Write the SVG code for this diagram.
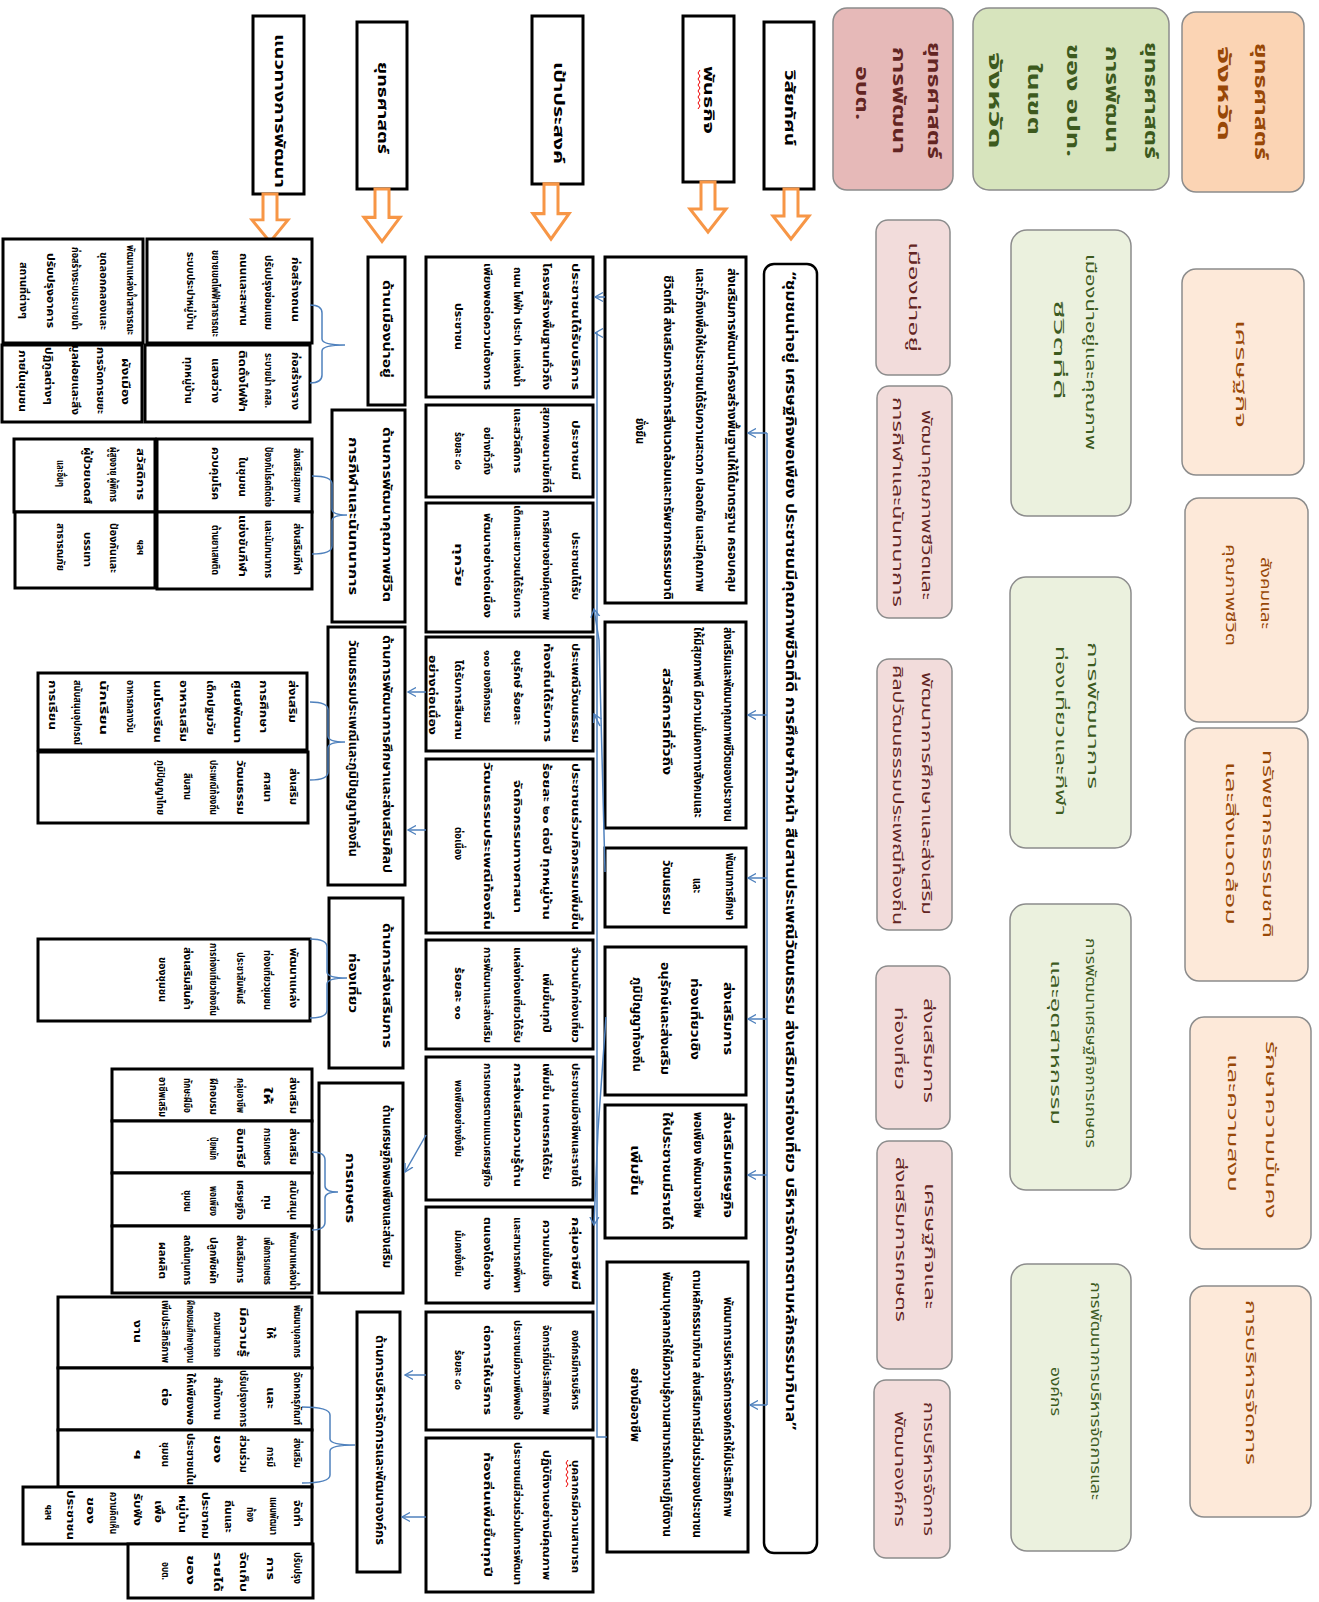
<svg xmlns="http://www.w3.org/2000/svg" width="1319" height="1602" viewBox="0 0 1319 1602">
<defs>
<style>
.t{font-family:"Noto Sans Thai","Noto Sans","DejaVu Sans",sans-serif;dominant-baseline:central}
.bk{fill:#fff;stroke:#000;stroke-width:3}
.vb{fill:#fff;stroke:#000;stroke-width:2.5}
.hd{font-size:14px;font-weight:bold;fill:#000}
.vt{font-size:14px;font-weight:bold;fill:#000}
.s9{font-size:10px;font-weight:bold;fill:#000}
.s10{font-size:11px;font-weight:bold;fill:#000}
.s11{font-size:12px;font-weight:bold;fill:#000}
.pk{fill:#f2dcdb;stroke:#8c8c8c;stroke-width:1.5}
.pkh{fill:#e6b9b8;stroke:#8c8c8c;stroke-width:1.5}
.gr{fill:#ebf1de;stroke:#8c8c8c;stroke-width:1.5}
.grh{fill:#d7e4bd;stroke:#8c8c8c;stroke-width:1.5}
.or{fill:#fde9d9;stroke:#8c8c8c;stroke-width:1.5}
.orh{fill:#fbd4b4;stroke:#8c8c8c;stroke-width:1.5}
.tp{fill:#632523;font-size:14px}
.tg{fill:#3d5a1e;font-size:14px}
.to{fill:#984807;font-size:14px}
.b{font-weight:bold;font-size:17px}
.cn{fill:none;stroke:#4f81bd;stroke-width:1.5}
.ar{fill:#fff;stroke:#f79646;stroke-width:3}
.sq{fill:none;stroke:#e00;stroke-width:1}
</style>
<marker id="ah" viewBox="0 0 10 10" refX="9" refY="5" markerWidth="9" markerHeight="11" orient="auto" markerUnits="userSpaceOnUse"><path d="M0,0 L9,5 L0,10" fill="none" stroke="#4f81bd" stroke-width="1.5"/></marker>
<path id="oa" d="M-7,0 H7 V27 H18 L0,50 L-18,27 H-7 Z"/>
</defs>

<!-- Orange column: provincial strategy -->
<g id="or-head"><rect class="orh" x="1182" y="12" width="122" height="180" rx="14"/>
<text class="t to b" transform="translate(1260,43) rotate(90)" textLength="117" lengthAdjust="spacingAndGlyphs">ยุทธศาสตร์</text>
<text class="t to b" transform="translate(1223,46) rotate(90)" textLength="95" lengthAdjust="spacingAndGlyphs">จังหวัด</text></g>
<g id="or-1"><rect class="or" x="1182" y="269" width="122" height="206" rx="14"/>
<text class="t to" transform="translate(1240,320) rotate(90)" textLength="108" lengthAdjust="spacingAndGlyphs">เศรษฐกิจ</text></g>
<g id="or-2"><rect class="or" x="1185" y="498" width="123" height="224" rx="14"/>
<text class="t to" transform="translate(1265,557) rotate(90)" textLength="72" lengthAdjust="spacingAndGlyphs">สังคมและ</text>
<text class="t to" transform="translate(1230,544) rotate(90)" textLength="102" lengthAdjust="spacingAndGlyphs">คุณภาพชีวิต</text></g>
<g id="or-3"><rect class="or" x="1185" y="728" width="123" height="253" rx="14"/>
<text class="t to" transform="translate(1267,750) rotate(90)" textLength="188" lengthAdjust="spacingAndGlyphs">ทรัพยากรธรรมชาติ</text>
<text class="t to" transform="translate(1230,762) rotate(90)" textLength="163" lengthAdjust="spacingAndGlyphs">และสิ่งแวดล้อม</text></g>
<g id="or-4"><rect class="or" x="1190" y="1017" width="121" height="232" rx="14"/>
<text class="t to" transform="translate(1270,1041) rotate(90)" textLength="178" lengthAdjust="spacingAndGlyphs">รักษาความมั่นคง</text>
<text class="t to" transform="translate(1232,1054) rotate(90)" textLength="138" lengthAdjust="spacingAndGlyphs">และความสงบ</text></g>
<g id="or-5"><rect class="or" x="1190" y="1286" width="121" height="231" rx="14"/>
<text class="t to" transform="translate(1250,1300) rotate(90)" textLength="165" lengthAdjust="spacingAndGlyphs">การบริหารจัดการ</text></g>

<!-- Green column -->
<g id="gr-head"><rect class="grh" x="973" y="8" width="196" height="182" rx="16"/>
<text class="t tg b" transform="translate(1150,42) rotate(90)" textLength="117" lengthAdjust="spacingAndGlyphs">ยุทธศาสตร์</text>
<text class="t tg b" transform="translate(1111,46) rotate(90)" textLength="107" lengthAdjust="spacingAndGlyphs">การพัฒนา</text>
<text class="t tg b" transform="translate(1072,44) rotate(90)" textLength="113" lengthAdjust="spacingAndGlyphs">ของ อปท.</text>
<text class="t tg b" transform="translate(1033,63) rotate(90)" textLength="72" lengthAdjust="spacingAndGlyphs">ในเขต</text>
<text class="t tg b" transform="translate(994,52) rotate(90)" textLength="97" lengthAdjust="spacingAndGlyphs">จังหวัด</text></g>
<g id="gr-1"><rect class="gr" x="1011" y="230" width="120" height="286" rx="16"/>
<text class="t tg" transform="translate(1090,254) rotate(90)" textLength="196" lengthAdjust="spacingAndGlyphs">เมืองน่าอยู่และคุณภาพ</text>
<text class="t tg" transform="translate(1058,300) rotate(90)" textLength="100" lengthAdjust="spacingAndGlyphs">ชีวิตที่ดี</text></g>
<g id="gr-2"><rect class="gr" x="1010" y="577" width="121" height="271" rx="16"/>
<text class="t tg" transform="translate(1092,642) rotate(90)" textLength="147" lengthAdjust="spacingAndGlyphs">การพัฒนาการ</text>
<text class="t tg" transform="translate(1060,646) rotate(90)" textLength="170" lengthAdjust="spacingAndGlyphs">ท่องเที่ยวและกีฬา</text></g>
<g id="gr-3"><rect class="gr" x="1010" y="904" width="121" height="286" rx="16"/>
<text class="t tg" transform="translate(1090,938) rotate(90)" textLength="210" lengthAdjust="spacingAndGlyphs">การพัฒนาเศรษฐกิจการเกษตร</text>
<text class="t tg" transform="translate(1055,960) rotate(90)" textLength="165" lengthAdjust="spacingAndGlyphs">และอุตสาหกรรม</text></g>
<g id="gr-4"><rect class="gr" x="1011" y="1264" width="120" height="287" rx="16"/>
<text class="t tg" transform="translate(1095,1282) rotate(90)" textLength="218" lengthAdjust="spacingAndGlyphs">การพัฒนาการบริหารจัดการและ</text>
<text class="t tg" transform="translate(1055,1367) rotate(90)" textLength="49" lengthAdjust="spacingAndGlyphs">องค์กร</text></g>

<!-- Pink column -->
<g id="pk-head"><rect class="pkh" x="833" y="8" width="120" height="182" rx="14"/>
<text class="t tp b" transform="translate(933,42) rotate(90)" textLength="117" lengthAdjust="spacingAndGlyphs">ยุทธศาสตร์</text>
<text class="t tp b" transform="translate(898,47) rotate(90)" textLength="107" lengthAdjust="spacingAndGlyphs">การพัฒนา</text>
<text class="t tp b" transform="translate(861,66) rotate(90)" textLength="54" lengthAdjust="spacingAndGlyphs">อบต.</text></g>
<g id="pk-1"><rect class="pk" x="876" y="220" width="74" height="155" rx="12"/>
<text class="t tp" transform="translate(913,242) rotate(90)" textLength="110" lengthAdjust="spacingAndGlyphs">เมืองน่าอยู่</text></g>
<g id="pk-2"><rect class="pk" x="877" y="386" width="75" height="232" rx="12"/>
<text class="t tp" transform="translate(926,410) rotate(90)" textLength="190" lengthAdjust="spacingAndGlyphs">พัฒนาคุณภาพชีวิตและ</text>
<text class="t tp" transform="translate(897,397) rotate(90)" textLength="210" lengthAdjust="spacingAndGlyphs">การกีฬาและนันทนาการ</text></g>
<g id="pk-3"><rect class="pk" x="877" y="659" width="75" height="271" rx="12"/>
<text class="t tp" transform="translate(926,672) rotate(90)" textLength="243" lengthAdjust="spacingAndGlyphs">พัฒนาการศึกษาและส่งเสริม</text>
<text class="t tp" transform="translate(897,665) rotate(90)" textLength="260" lengthAdjust="spacingAndGlyphs">ศิลปวัฒนธรรมประเพณีท้องถิ่น</text></g>
<g id="pk-4"><rect class="pk" x="876" y="966" width="74" height="163" rx="12"/>
<text class="t tp" transform="translate(928,998) rotate(90)" textLength="105" lengthAdjust="spacingAndGlyphs">ส่งเสริมการ</text>
<text class="t tp" transform="translate(899,1007) rotate(90)" textLength="83" lengthAdjust="spacingAndGlyphs">ท่องเที่ยว</text></g>
<g id="pk-5"><rect class="pk" x="877" y="1141" width="75" height="228" rx="12"/>
<text class="t tp" transform="translate(929,1183) rotate(90)" textLength="126" lengthAdjust="spacingAndGlyphs">เศรษฐกิจและ</text>
<text class="t tp" transform="translate(900,1157) rotate(90)" textLength="165" lengthAdjust="spacingAndGlyphs">ส่งเสริมการเกษตร</text></g>
<g id="pk-6"><rect class="pk" x="874" y="1380" width="76" height="178" rx="12"/>
<text class="t tp" transform="translate(928,1402) rotate(90)" textLength="134" lengthAdjust="spacingAndGlyphs">การบริหารจัดการ</text>
<text class="t tp" transform="translate(899,1411) rotate(90)" textLength="116" lengthAdjust="spacingAndGlyphs">พัฒนาองค์กร</text></g>

<!-- Column headers -->
<g id="h-vision"><rect class="bk" x="764" y="22" width="50" height="167"/>
<text class="t hd" transform="translate(789,70) rotate(90)" textLength="76" lengthAdjust="spacingAndGlyphs">วิสัยทัศน์</text></g>
<g id="h-mission"><rect class="bk" x="683" y="16" width="51" height="166"/>
<text class="t hd" transform="translate(708,66) rotate(90)" textLength="68" lengthAdjust="spacingAndGlyphs">พันธกิจ</text>
<path class="sq" d="M700,70 l-2,3 l2,3 l-2,3 l2,3 l-2,3 l2,3 l-2,3 l2,3 l-2,3 l2,3 l-2,3 l2,3 l-2,3"/></g>
<g id="h-goal"><rect class="bk" x="532" y="16" width="51" height="168"/>
<text class="t hd" transform="translate(558,62) rotate(90)" textLength="102" lengthAdjust="spacingAndGlyphs">เป้าประสงค์</text></g>
<g id="h-strategy"><rect class="bk" x="357" y="22" width="50" height="167"/>
<text class="t hd" transform="translate(382,62) rotate(90)" textLength="92" lengthAdjust="spacingAndGlyphs">ยุทธศาสตร์</text></g>
<g id="h-guide"><rect class="bk" x="253" y="16" width="51" height="178"/>
<text class="t hd" transform="translate(279,34) rotate(90)" textLength="154" lengthAdjust="spacingAndGlyphs">แนวทางการพัฒนา</text></g>

<g id="down-arrows">
<use href="#oa" class="ar" transform="translate(791,189)"/>
<use href="#oa" class="ar" transform="translate(708,182)"/>
<use href="#oa" class="ar" transform="translate(551,184) scale(1,1.1)"/>
<use href="#oa" class="ar" transform="translate(382,189) scale(1,1.05)"/>
<use href="#oa" class="ar" transform="translate(270,194) scale(1,0.96)"/>
</g>

<!-- Vision -->
<g id="vision"><rect class="vb" x="764" y="264" width="53" height="1289" rx="10"/>
<text class="t vt" transform="translate(790,272) rotate(90)" textLength="1158" lengthAdjust="spacingAndGlyphs">“ชุมชนน่าอยู่ เศรษฐกิจพอเพียง ประชาชนมีคุณภาพชีวิตที่ดี การศึกษาก้าวหน้า สืบสานประเพณีวัฒนธรรม ส่งเสริมการท่องเที่ยว บริหารจัดการตามหลักธรรมาภิบาล”</text></g>

<!-- Missions -->
<g id="mission-1"><rect class="bk" x="605" y="257" width="141" height="346"/>
<text class="t s11" transform="translate(732,268) rotate(90)" textLength="324" lengthAdjust="spacingAndGlyphs">ส่งเสริมการพัฒนาโครงสร้างพื้นฐานให้ได้มาตรฐาน ครอบคลุม</text>
<text class="t s11" transform="translate(700,268) rotate(90)" textLength="324" lengthAdjust="spacingAndGlyphs">และทั่วถึงเพื่อให้ประชาชนได้รับความสะดวก ปลอดภัย และมีคุณภาพ</text>
<text class="t s11" transform="translate(668,275) rotate(90)" textLength="325" lengthAdjust="spacingAndGlyphs">ชีวิตที่ดี ส่งเสริมการจัดการสิ่งแวดล้อมและทรัพยากรธรรมชาติ</text>
<text class="t s11" transform="translate(640,418) rotate(90)" textLength="26" lengthAdjust="spacingAndGlyphs">ยั่งยืน</text></g>
<g id="mission-2"><rect class="bk" x="605" y="622" width="141" height="206"/>
<text class="t s11" transform="translate(728,627) rotate(90)" textLength="195" lengthAdjust="spacingAndGlyphs">ส่งเสริมและพัฒนาคุณภาพชีวิตของประชาชน</text>
<text class="t s11" transform="translate(698,627) rotate(90)" textLength="191" lengthAdjust="spacingAndGlyphs">ให้มีสุขภาพดี มีความมั่นคงทางสังคมและ</text>
<text class="t s11" transform="translate(667,668) rotate(90)" textLength="107" lengthAdjust="spacingAndGlyphs">สวัสดิการที่ทั่วถึง</text></g>
<g id="mission-3"><rect class="bk" x="605" y="848" width="141" height="79"/>
<text class="t s11" transform="translate(730,853) rotate(90)" textLength="67" lengthAdjust="spacingAndGlyphs">พัฒนาการศึกษา</text>
<text class="t s11" transform="translate(697,878) rotate(90)" textLength="15" lengthAdjust="spacingAndGlyphs">และ</text>
<text class="t s11" transform="translate(667,860) rotate(90)" textLength="55" lengthAdjust="spacingAndGlyphs">วัฒนธรรม</text></g>
<g id="mission-4"><rect class="bk" x="605" y="947" width="141" height="148"/>
<text class="t s11" transform="translate(728,982) rotate(90)" textLength="73" lengthAdjust="spacingAndGlyphs">ส่งเสริมการ</text>
<text class="t s11" transform="translate(695,978) rotate(90)" textLength="82" lengthAdjust="spacingAndGlyphs">ท่องเที่ยวเชิง</text>
<text class="t s11" transform="translate(665,962) rotate(90)" textLength="113" lengthAdjust="spacingAndGlyphs">อนุรักษ์และส่งเสริม</text>
<text class="t s11" transform="translate(637,977) rotate(90)" textLength="95" lengthAdjust="spacingAndGlyphs">ภูมิปัญญาท้องถิ่น</text></g>
<g id="mission-5"><rect class="bk" x="605" y="1105" width="141" height="133"/>
<text class="t s11" transform="translate(728,1112) rotate(90)" textLength="106" lengthAdjust="spacingAndGlyphs">ส่งเสริมเศรษฐกิจ</text>
<text class="t s11" transform="translate(698,1112) rotate(90)" textLength="106" lengthAdjust="spacingAndGlyphs">พอเพียง พัฒนาอาชีพ</text>
<text class="t s11" transform="translate(667,1112) rotate(90)" textLength="118" lengthAdjust="spacingAndGlyphs">ให้ประชาชนมีรายได้</text>
<text class="t s11" transform="translate(635,1145) rotate(90)" textLength="51" lengthAdjust="spacingAndGlyphs">เพิ่มขึ้น</text></g>
<g id="mission-6"><rect class="bk" x="607" y="1262" width="141" height="290"/>
<text class="t s11" transform="translate(728,1297) rotate(90)" textLength="220" lengthAdjust="spacingAndGlyphs">พัฒนาการบริหารจัดการองค์กรให้มีประสิทธิภาพ</text>
<text class="t s11" transform="translate(697,1270) rotate(90)" textLength="268" lengthAdjust="spacingAndGlyphs">ตามหลักธรรมาภิบาล ส่งเสริมการมีส่วนร่วมของประชาชน</text>
<text class="t s11" transform="translate(667,1272) rotate(90)" textLength="265" lengthAdjust="spacingAndGlyphs">พัฒนาบุคลากรให้มีความรู้ความสามารถในการปฏิบัติงาน</text>
<text class="t s11" transform="translate(635,1368) rotate(90)" textLength="74" lengthAdjust="spacingAndGlyphs">อย่างมืออาชีพ</text></g>

<!-- Goals -->
<g id="goal-1"><rect class="bk" x="426" y="257" width="167" height="140"/>
<text class="t s10" transform="translate(575,263) rotate(90)" textLength="127" lengthAdjust="spacingAndGlyphs">ประชาชนได้รับบริการ</text>
<text class="t s10" transform="translate(546,263) rotate(90)" textLength="127" lengthAdjust="spacingAndGlyphs">โครงสร้างพื้นฐานทั่วถึง</text>
<text class="t s10" transform="translate(517,267) rotate(90)" textLength="120" lengthAdjust="spacingAndGlyphs">ถนน ไฟฟ้า ประปา แหล่งน้ำ</text>
<text class="t s10" transform="translate(487,263) rotate(90)" textLength="127" lengthAdjust="spacingAndGlyphs">เพียงพอต่อความต้องการ</text>
<text class="t s10" transform="translate(458,303) rotate(90)" textLength="47" lengthAdjust="spacingAndGlyphs">ประชาชน</text></g>
<g id="goal-2"><rect class="bk" x="426" y="405" width="167" height="92"/>
<text class="t s10" transform="translate(575,420) rotate(90)" textLength="60" lengthAdjust="spacingAndGlyphs">ประชาชนมี</text>
<text class="t s10" transform="translate(546,407) rotate(90)" textLength="86" lengthAdjust="spacingAndGlyphs">สุขภาพอนามัยที่ดี</text>
<text class="t s10" transform="translate(517,408) rotate(90)" textLength="65" lengthAdjust="spacingAndGlyphs">และสวัสดิการ</text>
<text class="t s10" transform="translate(487,427) rotate(90)" textLength="48" lengthAdjust="spacingAndGlyphs">อย่างทั่วถึง</text>
<text class="t s10" transform="translate(458,432) rotate(90)" textLength="38" lengthAdjust="spacingAndGlyphs">ร้อยละ ๘๐</text></g>
<g id="goal-3"><rect class="bk" x="426" y="503" width="167" height="129"/>
<text class="t s10" transform="translate(575,532) rotate(90)" textLength="68" lengthAdjust="spacingAndGlyphs">ประชาชนได้รับ</text>
<text class="t s10" transform="translate(546,510) rotate(90)" textLength="110" lengthAdjust="spacingAndGlyphs">การศึกษาอย่างมีคุณภาพ</text>
<text class="t s10" transform="translate(517,505) rotate(90)" textLength="113" lengthAdjust="spacingAndGlyphs">เด็กและเยาวชนได้รับการ</text>
<text class="t s10" transform="translate(487,513) rotate(90)" textLength="105" lengthAdjust="spacingAndGlyphs">พัฒนาอย่างต่อเนื่อง</text>
<text class="t s10" transform="translate(458,543) rotate(90)" textLength="44" lengthAdjust="spacingAndGlyphs">ทุกวัย</text></g>
<g id="goal-4"><rect class="bk" x="426" y="637" width="167" height="114"/>
<text class="t s10" transform="translate(575,643) rotate(90)" textLength="100" lengthAdjust="spacingAndGlyphs">ประเพณีวัฒนธรรม</text>
<text class="t s10" transform="translate(547,643) rotate(90)" textLength="99" lengthAdjust="spacingAndGlyphs">ท้องถิ่นได้รับการ</text>
<text class="t s10" transform="translate(517,650) rotate(90)" textLength="75" lengthAdjust="spacingAndGlyphs">อนุรักษ์ ร้อยละ</text>
<text class="t s10" transform="translate(487,650) rotate(90)" textLength="73" lengthAdjust="spacingAndGlyphs">๑๐๐ ของกิจกรรม</text>
<text class="t s10" transform="translate(458,660) rotate(90)" textLength="80" lengthAdjust="spacingAndGlyphs">ได้รับการสืบสาน</text>
<text class="t s10" transform="translate(432,655) rotate(90)" textLength="80" lengthAdjust="spacingAndGlyphs">อย่างต่อเนื่อง</text></g>
<g id="goal-5"><rect class="bk" x="426" y="759" width="167" height="174"/>
<text class="t s10" transform="translate(575,763) rotate(90)" textLength="167" lengthAdjust="spacingAndGlyphs">ประชาชนร่วมกิจกรรมเพิ่มขึ้น</text>
<text class="t s10" transform="translate(546,763) rotate(90)" textLength="157" lengthAdjust="spacingAndGlyphs">ร้อยละ ๒๐ ต่อปี ทุกหมู่บ้าน</text>
<text class="t s10" transform="translate(517,780) rotate(90)" textLength="133" lengthAdjust="spacingAndGlyphs">จัดกิจกรรมทางศาสนา</text>
<text class="t s10" transform="translate(487,762) rotate(90)" textLength="168" lengthAdjust="spacingAndGlyphs">วัฒนธรรมประเพณีท้องถิ่น</text>
<text class="t s10" transform="translate(458,827) rotate(90)" textLength="33" lengthAdjust="spacingAndGlyphs">ต่อเนื่อง</text></g>
<g id="goal-6"><rect class="bk" x="426" y="940" width="167" height="109"/>
<text class="t s10" transform="translate(575,947) rotate(90)" textLength="96" lengthAdjust="spacingAndGlyphs">จำนวนนักท่องเที่ยว</text>
<text class="t s10" transform="translate(546,973) rotate(90)" textLength="60" lengthAdjust="spacingAndGlyphs">เพิ่มขึ้นทุกปี</text>
<text class="t s10" transform="translate(517,947) rotate(90)" textLength="96" lengthAdjust="spacingAndGlyphs">แหล่งท่องเที่ยวได้รับ</text>
<text class="t s10" transform="translate(487,947) rotate(90)" textLength="96" lengthAdjust="spacingAndGlyphs">การพัฒนาและส่งเสริม</text>
<text class="t s10" transform="translate(458,967) rotate(90)" textLength="53" lengthAdjust="spacingAndGlyphs">ร้อยละ ๑๐</text></g>
<g id="goal-7"><rect class="bk" x="426" y="1057" width="167" height="143"/>
<text class="t s10" transform="translate(575,1063) rotate(90)" textLength="124" lengthAdjust="spacingAndGlyphs">ประชาชนมีอาชีพและรายได้</text>
<text class="t s10" transform="translate(546,1063) rotate(90)" textLength="117" lengthAdjust="spacingAndGlyphs">เพิ่มขึ้น เกษตรกรได้รับ</text>
<text class="t s10" transform="translate(517,1063) rotate(90)" textLength="124" lengthAdjust="spacingAndGlyphs">การส่งเสริมความรู้ด้าน</text>
<text class="t s10" transform="translate(487,1063) rotate(90)" textLength="124" lengthAdjust="spacingAndGlyphs">การเกษตรตามแนวเศรษฐกิจ</text>
<text class="t s10" transform="translate(458,1080) rotate(90)" textLength="77" lengthAdjust="spacingAndGlyphs">พอเพียงอย่างยั่งยืน</text></g>
<g id="goal-8"><rect class="bk" x="426" y="1207" width="167" height="96"/>
<text class="t s10" transform="translate(575,1217) rotate(90)" textLength="73" lengthAdjust="spacingAndGlyphs">กลุ่มอาชีพมี</text>
<text class="t s10" transform="translate(546,1220) rotate(90)" textLength="67" lengthAdjust="spacingAndGlyphs">ความเข้มแข็ง</text>
<text class="t s10" transform="translate(517,1217) rotate(90)" textLength="76" lengthAdjust="spacingAndGlyphs">และสามารถพึ่งพา</text>
<text class="t s10" transform="translate(487,1217) rotate(90)" textLength="73" lengthAdjust="spacingAndGlyphs">ตนเองได้อย่าง</text>
<text class="t s10" transform="translate(458,1230) rotate(90)" textLength="47" lengthAdjust="spacingAndGlyphs">มั่นคงยั่งยืน</text></g>
<g id="goal-9"><rect class="bk" x="426" y="1312" width="167" height="118"/>
<text class="t s10" transform="translate(575,1330) rotate(90)" textLength="80" lengthAdjust="spacingAndGlyphs">องค์กรมีการบริหาร</text>
<text class="t s10" transform="translate(546,1325) rotate(90)" textLength="90" lengthAdjust="spacingAndGlyphs">จัดการที่มีประสิทธิภาพ</text>
<text class="t s10" transform="translate(517,1320) rotate(90)" textLength="100" lengthAdjust="spacingAndGlyphs">ประชาชนมีความพึงพอใจ</text>
<text class="t s10" transform="translate(487,1325) rotate(90)" textLength="90" lengthAdjust="spacingAndGlyphs">ต่อการให้บริการ</text>
<text class="t s10" transform="translate(458,1350) rotate(90)" textLength="40" lengthAdjust="spacingAndGlyphs">ร้อยละ ๘๐</text></g>
<g id="goal-10"><rect class="bk" x="426" y="1438" width="167" height="154"/>
<text class="t s10" transform="translate(575,1460) rotate(90)" textLength="113" lengthAdjust="spacingAndGlyphs">บุคลากรมีความสามารถ</text>
<text class="t s10" transform="translate(546,1450) rotate(90)" textLength="130" lengthAdjust="spacingAndGlyphs">ปฏิบัติงานอย่างมีคุณภาพ</text>
<text class="t s10" transform="translate(517,1442) rotate(90)" textLength="143" lengthAdjust="spacingAndGlyphs">ประชาชนมีส่วนร่วมในการพัฒนา</text>
<text class="t s10" transform="translate(487,1452) rotate(90)" textLength="125" lengthAdjust="spacingAndGlyphs">ท้องถิ่นเพิ่มขึ้นทุกปี</text>
<path class="sq" d="M568,1460 l-2,3 l2,3 l-2,3 l2,3 l-2,3 l2,3 l-2,3 l2,3 l-2,3"/></g>

<!-- Strategies -->
<g id="strategy-1"><rect class="bk" x="368" y="257" width="37" height="148"/>
<text class="t s11" transform="translate(387,280) rotate(90)" textLength="98" lengthAdjust="spacingAndGlyphs">ด้านเมืองน่าอยู่</text></g>
<g id="strategy-2"><rect class="bk" x="332" y="410" width="73" height="212"/>
<text class="t s11" transform="translate(387,427) rotate(90)" textLength="175" lengthAdjust="spacingAndGlyphs">ด้านการพัฒนาคุณภาพชีวิต</text>
<text class="t s11" transform="translate(353,437) rotate(90)" textLength="158" lengthAdjust="spacingAndGlyphs">การกีฬาและนันทนาการ</text></g>
<g id="strategy-3"><rect class="bk" x="328" y="627" width="77" height="258"/>
<text class="t s11" transform="translate(387,635) rotate(90)" textLength="238" lengthAdjust="spacingAndGlyphs">ด้านการพัฒนาการศึกษาและส่งเสริมศิลป</text>
<text class="t s11" transform="translate(353,640) rotate(90)" textLength="217" lengthAdjust="spacingAndGlyphs">วัฒนธรรมประเพณีและภูมิปัญญาท้องถิ่น</text></g>
<g id="strategy-4"><rect class="bk" x="329" y="898" width="74" height="170"/>
<text class="t s11" transform="translate(387,923) rotate(90)" textLength="125" lengthAdjust="spacingAndGlyphs">ด้านการส่งเสริมการ</text>
<text class="t s11" transform="translate(353,953) rotate(90)" textLength="60" lengthAdjust="spacingAndGlyphs">ท่องเที่ยว</text></g>
<g id="strategy-5"><rect class="bk" x="319" y="1083" width="84" height="210"/>
<text class="t s11" transform="translate(387,1105) rotate(90)" textLength="163" lengthAdjust="spacingAndGlyphs">ด้านเศรษฐกิจพอเพียงและส่งเสริม</text>
<text class="t s11" transform="translate(350,1153) rotate(90)" textLength="70" lengthAdjust="spacingAndGlyphs">การเกษตร</text></g>
<g id="strategy-6"><rect class="bk" x="357" y="1312" width="43" height="260"/>
<text class="t s11" transform="translate(380,1335) rotate(90)" textLength="210" lengthAdjust="spacingAndGlyphs">ด้านการบริหารจัดการและพัฒนาองค์กร</text></g>

<!-- Development guidelines -->
<g id="guide-1a"><rect class="bk" x="147" y="239" width="165" height="104"/>
<text class="t s9" transform="translate(295,257) rotate(90)" textLength="65" lengthAdjust="spacingAndGlyphs">ก่อสร้างถนน</text>
<text class="t s9" transform="translate(268,255) rotate(90)" textLength="75" lengthAdjust="spacingAndGlyphs">ปรับปรุงซ่อมแซม</text>
<text class="t s9" transform="translate(243,253) rotate(90)" textLength="73" lengthAdjust="spacingAndGlyphs">ถนนและสะพาน</text>
<text class="t s9" transform="translate(215,250) rotate(90)" textLength="87" lengthAdjust="spacingAndGlyphs">ขยายเขตไฟฟ้าสาธารณะ</text>
<text class="t s9" transform="translate(190,252) rotate(90)" textLength="78" lengthAdjust="spacingAndGlyphs">ระบบประปาหมู่บ้าน</text></g>
<g id="guide-1b"><rect class="bk" x="3" y="239" width="140" height="104"/>
<text class="t s9" transform="translate(130,245) rotate(90)" textLength="90" lengthAdjust="spacingAndGlyphs">พัฒนาแหล่งน้ำสาธารณะ</text>
<text class="t s9" transform="translate(103,252) rotate(90)" textLength="78" lengthAdjust="spacingAndGlyphs">ขุดลอกคลองและ</text>
<text class="t s9" transform="translate(75,247) rotate(90)" textLength="83" lengthAdjust="spacingAndGlyphs">ก่อสร้างระบบระบายน้ำ</text>
<text class="t s9" transform="translate(50,253) rotate(90)" textLength="75" lengthAdjust="spacingAndGlyphs">ปรับปรุงอาคาร</text>
<text class="t s9" transform="translate(23,262) rotate(90)" textLength="57" lengthAdjust="spacingAndGlyphs">สถานที่ต่างๆ</text></g>
<g id="guide-1c"><rect class="bk" x="145" y="345" width="165" height="77"/>
<text class="t s9" transform="translate(295,352) rotate(90)" textLength="58" lengthAdjust="spacingAndGlyphs">ก่อสร้างราง</text>
<text class="t s9" transform="translate(268,353) rotate(90)" textLength="55" lengthAdjust="spacingAndGlyphs">ระบายน้ำ คสล.</text>
<text class="t s9" transform="translate(242,350) rotate(90)" textLength="62" lengthAdjust="spacingAndGlyphs">ติดตั้งไฟฟ้า</text>
<text class="t s9" transform="translate(215,358) rotate(90)" textLength="45" lengthAdjust="spacingAndGlyphs">แสงสว่าง</text>
<text class="t s9" transform="translate(188,357) rotate(90)" textLength="47" lengthAdjust="spacingAndGlyphs">ทุกหมู่บ้าน</text></g>
<g id="guide-1d"><rect class="bk" x="2" y="345" width="140" height="77"/>
<text class="t s9" transform="translate(125,358) rotate(90)" textLength="47" lengthAdjust="spacingAndGlyphs">ผังเมือง</text>
<text class="t s9" transform="translate(100,347) rotate(90)" textLength="67" lengthAdjust="spacingAndGlyphs">การจัดการขยะ</text>
<text class="t s9" transform="translate(75,345) rotate(90)" textLength="70" lengthAdjust="spacingAndGlyphs">มูลฝอยและสิ่ง</text>
<text class="t s9" transform="translate(48,347) rotate(90)" textLength="58" lengthAdjust="spacingAndGlyphs">ปฏิกูลต่างๆ</text>
<text class="t s9" transform="translate(22,350) rotate(90)" textLength="62" lengthAdjust="spacingAndGlyphs">ภายในชุมชน</text></g>

<g id="guide-2a"><rect class="bk" x="157" y="439" width="155" height="73"/>
<text class="t s9" transform="translate(297,448) rotate(90)" textLength="55" lengthAdjust="spacingAndGlyphs">ส่งเสริมสุขภาพ</text>
<text class="t s9" transform="translate(268,447) rotate(90)" textLength="60" lengthAdjust="spacingAndGlyphs">ป้องกันโรคติดต่อ</text>
<text class="t s9" transform="translate(242,457) rotate(90)" textLength="40" lengthAdjust="spacingAndGlyphs">ในชุมชน</text>
<text class="t s9" transform="translate(215,447) rotate(90)" textLength="53" lengthAdjust="spacingAndGlyphs">ควบคุมโรค</text></g>
<g id="guide-2b"><rect class="bk" x="14" y="439" width="141" height="73"/>
<text class="t s9" transform="translate(140,448) rotate(90)" textLength="52" lengthAdjust="spacingAndGlyphs">สวัสดิการ</text>
<text class="t s9" transform="translate(113,447) rotate(90)" textLength="55" lengthAdjust="spacingAndGlyphs">ผู้สูงอายุ ผู้พิการ</text>
<text class="t s9" transform="translate(87,447) rotate(90)" textLength="57" lengthAdjust="spacingAndGlyphs">ผู้ป่วยเอดส์</text>
<text class="t s9" transform="translate(60,460) rotate(90)" textLength="27" lengthAdjust="spacingAndGlyphs">และอื่นๆ</text></g>
<g id="guide-2c"><rect class="bk" x="157" y="512" width="155" height="77"/>
<text class="t s9" transform="translate(297,523) rotate(90)" textLength="52" lengthAdjust="spacingAndGlyphs">ส่งเสริมกีฬา</text>
<text class="t s9" transform="translate(268,520) rotate(90)" textLength="58" lengthAdjust="spacingAndGlyphs">และนันทนาการ</text>
<text class="t s9" transform="translate(242,515) rotate(90)" textLength="62" lengthAdjust="spacingAndGlyphs">แข่งขันกีฬา</text>
<text class="t s9" transform="translate(215,525) rotate(90)" textLength="50" lengthAdjust="spacingAndGlyphs">ต้านยาเสพติด</text></g>
<g id="guide-2d"><rect class="bk" x="15" y="512" width="140" height="76"/>
<text class="t s9" transform="translate(140,540) rotate(90)" textLength="15" lengthAdjust="spacingAndGlyphs">ฯลฯ</text>
<text class="t s9" transform="translate(113,523) rotate(90)" textLength="50" lengthAdjust="spacingAndGlyphs">ป้องกันและ</text>
<text class="t s9" transform="translate(87,532) rotate(90)" textLength="35" lengthAdjust="spacingAndGlyphs">บรรเทา</text>
<text class="t s9" transform="translate(60,523) rotate(90)" textLength="48" lengthAdjust="spacingAndGlyphs">สาธารณภัย</text></g>

<g id="guide-3a"><rect class="bk" x="38" y="673" width="269" height="77"/>
<text class="t s9" transform="translate(292,680) rotate(90)" textLength="43" lengthAdjust="spacingAndGlyphs">ส่งเสริม</text>
<text class="t s9" transform="translate(263,680) rotate(90)" textLength="53" lengthAdjust="spacingAndGlyphs">การศึกษา</text>
<text class="t s9" transform="translate(237,680) rotate(90)" textLength="63" lengthAdjust="spacingAndGlyphs">ศูนย์พัฒนา</text>
<text class="t s9" transform="translate(210,680) rotate(90)" textLength="55" lengthAdjust="spacingAndGlyphs">เด็กปฐมวัย</text>
<text class="t s9" transform="translate(183,680) rotate(90)" textLength="62" lengthAdjust="spacingAndGlyphs">อาหารเสริม</text>
<text class="t s9" transform="translate(157,680) rotate(90)" textLength="63" lengthAdjust="spacingAndGlyphs">นมโรงเรียน</text>
<text class="t s9" transform="translate(130,680) rotate(90)" textLength="53" lengthAdjust="spacingAndGlyphs">อาหารกลางวัน</text>
<text class="t s9" transform="translate(103,680) rotate(90)" textLength="55" lengthAdjust="spacingAndGlyphs">นักเรียน</text>
<text class="t s9" transform="translate(77,680) rotate(90)" textLength="65" lengthAdjust="spacingAndGlyphs">สนับสนุนอุปกรณ์</text>
<text class="t s9" transform="translate(52,680) rotate(90)" textLength="50" lengthAdjust="spacingAndGlyphs">การเรียน</text></g>
<g id="guide-3b"><rect class="bk" x="38" y="752" width="270" height="71"/>
<text class="t s9" transform="translate(293,768) rotate(90)" textLength="37" lengthAdjust="spacingAndGlyphs">ส่งเสริม</text>
<text class="t s9" transform="translate(267,772) rotate(90)" textLength="30" lengthAdjust="spacingAndGlyphs">ศาสนา</text>
<text class="t s9" transform="translate(240,760) rotate(90)" textLength="55" lengthAdjust="spacingAndGlyphs">วัฒนธรรม</text>
<text class="t s9" transform="translate(213,760) rotate(90)" textLength="55" lengthAdjust="spacingAndGlyphs">ประเพณีท้องถิ่น</text>
<text class="t s9" transform="translate(187,773) rotate(90)" textLength="27" lengthAdjust="spacingAndGlyphs">สืบสาน</text>
<text class="t s9" transform="translate(160,760) rotate(90)" textLength="55" lengthAdjust="spacingAndGlyphs">ภูมิปัญญาไทย</text></g>

<g id="guide-4"><rect class="bk" x="38" y="939" width="272" height="82"/>
<text class="t s9" transform="translate(293,948) rotate(90)" textLength="60" lengthAdjust="spacingAndGlyphs">พัฒนาแหล่ง</text>
<text class="t s9" transform="translate(267,950) rotate(90)" textLength="60" lengthAdjust="spacingAndGlyphs">ท่องเที่ยวชุมชน</text>
<text class="t s9" transform="translate(240,952) rotate(90)" textLength="52" lengthAdjust="spacingAndGlyphs">ประชาสัมพันธ์</text>
<text class="t s9" transform="translate(213,943) rotate(90)" textLength="73" lengthAdjust="spacingAndGlyphs">การท่องเที่ยวท้องถิ่น</text>
<text class="t s9" transform="translate(187,947) rotate(90)" textLength="63" lengthAdjust="spacingAndGlyphs">ส่งเสริมสินค้า</text>
<text class="t s9" transform="translate(162,957) rotate(90)" textLength="45" lengthAdjust="spacingAndGlyphs">ของชุมชน</text></g>

<g id="guide-5a"><rect class="bk" x="112" y="1069" width="200" height="52"/>
<text class="t s9" transform="translate(293,1077) rotate(90)" textLength="37" lengthAdjust="spacingAndGlyphs">ส่งเสริม</text>
<text class="t s9" transform="translate(267,1087) rotate(90)" textLength="18" lengthAdjust="spacingAndGlyphs">ให้</text>
<text class="t s9" transform="translate(240,1078) rotate(90)" textLength="35" lengthAdjust="spacingAndGlyphs">กลุ่มอาชีพ</text>
<text class="t s9" transform="translate(213,1078) rotate(90)" textLength="37" lengthAdjust="spacingAndGlyphs">ฝึกอบรม</text>
<text class="t s9" transform="translate(187,1078) rotate(90)" textLength="35" lengthAdjust="spacingAndGlyphs">ทักษะฝีมือ</text>
<text class="t s9" transform="translate(162,1077) rotate(90)" textLength="40" lengthAdjust="spacingAndGlyphs">อาชีพเสริม</text></g>
<g id="guide-5b"><rect class="bk" x="112" y="1121" width="200" height="52"/>
<text class="t s9" transform="translate(293,1128) rotate(90)" textLength="37" lengthAdjust="spacingAndGlyphs">ส่งเสริม</text>
<text class="t s9" transform="translate(267,1128) rotate(90)" textLength="37" lengthAdjust="spacingAndGlyphs">การเกษตร</text>
<text class="t s9" transform="translate(240,1128) rotate(90)" textLength="40" lengthAdjust="spacingAndGlyphs">อินทรีย์</text>
<text class="t s9" transform="translate(213,1137) rotate(90)" textLength="23" lengthAdjust="spacingAndGlyphs">ปุ๋ยหมัก</text></g>
<g id="guide-5c"><rect class="bk" x="112" y="1173" width="200" height="53"/>
<text class="t s9" transform="translate(293,1180) rotate(90)" textLength="40" lengthAdjust="spacingAndGlyphs">สนับสนุน</text>
<text class="t s9" transform="translate(267,1195) rotate(90)" textLength="15" lengthAdjust="spacingAndGlyphs">ทุน</text>
<text class="t s9" transform="translate(240,1180) rotate(90)" textLength="40" lengthAdjust="spacingAndGlyphs">เศรษฐกิจ</text>
<text class="t s9" transform="translate(213,1186) rotate(90)" textLength="30" lengthAdjust="spacingAndGlyphs">พอเพียง</text>
<text class="t s9" transform="translate(187,1190) rotate(90)" textLength="22" lengthAdjust="spacingAndGlyphs">ชุมชน</text></g>
<g id="guide-5d"><rect class="bk" x="112" y="1226" width="200" height="67"/>
<text class="t s9" transform="translate(293,1232) rotate(90)" textLength="58" lengthAdjust="spacingAndGlyphs">พัฒนาแหล่งน้ำ</text>
<text class="t s9" transform="translate(267,1237) rotate(90)" textLength="48" lengthAdjust="spacingAndGlyphs">เพื่อการเกษตร</text>
<text class="t s9" transform="translate(240,1235) rotate(90)" textLength="48" lengthAdjust="spacingAndGlyphs">ส่งเสริมการ</text>
<text class="t s9" transform="translate(213,1237) rotate(90)" textLength="47" lengthAdjust="spacingAndGlyphs">ปลูกพืชผัก</text>
<text class="t s9" transform="translate(187,1235) rotate(90)" textLength="50" lengthAdjust="spacingAndGlyphs">ลดต้นทุนการ</text>
<text class="t s9" transform="translate(162,1242) rotate(90)" textLength="37" lengthAdjust="spacingAndGlyphs">ผลผลิต</text></g>

<g id="guide-6a"><rect class="bk" x="58" y="1297" width="254" height="71"/>
<text class="t s9" transform="translate(297,1305) rotate(90)" textLength="53" lengthAdjust="spacingAndGlyphs">พัฒนาบุคลากร</text>
<text class="t s9" transform="translate(270,1327) rotate(90)" textLength="12" lengthAdjust="spacingAndGlyphs">ให้</text>
<text class="t s9" transform="translate(243,1307) rotate(90)" textLength="50" lengthAdjust="spacingAndGlyphs">มีความรู้</text>
<text class="t s9" transform="translate(217,1312) rotate(90)" textLength="45" lengthAdjust="spacingAndGlyphs">ความสามารถ</text>
<text class="t s9" transform="translate(190,1300) rotate(90)" textLength="63" lengthAdjust="spacingAndGlyphs">ฝึกอบรมศึกษาดูงาน</text>
<text class="t s9" transform="translate(165,1300) rotate(90)" textLength="63" lengthAdjust="spacingAndGlyphs">เพิ่มประสิทธิภาพ</text>
<text class="t s9" transform="translate(137,1320) rotate(90)" textLength="23" lengthAdjust="spacingAndGlyphs">งาน</text></g>
<g id="guide-6b"><rect class="bk" x="58" y="1368" width="254" height="62"/>
<text class="t s9" transform="translate(297,1372) rotate(90)" textLength="53" lengthAdjust="spacingAndGlyphs">จัดหาครุภัณฑ์</text>
<text class="t s9" transform="translate(270,1387) rotate(90)" textLength="22" lengthAdjust="spacingAndGlyphs">และ</text>
<text class="t s9" transform="translate(243,1370) rotate(90)" textLength="57" lengthAdjust="spacingAndGlyphs">ปรับปรุงอาคาร</text>
<text class="t s9" transform="translate(217,1377) rotate(90)" textLength="43" lengthAdjust="spacingAndGlyphs">สำนักงาน</text>
<text class="t s9" transform="translate(190,1373) rotate(90)" textLength="52" lengthAdjust="spacingAndGlyphs">ให้เพียงพอ</text>
<text class="t s9" transform="translate(165,1388) rotate(90)" textLength="18" lengthAdjust="spacingAndGlyphs">ต่อ</text></g>
<g id="guide-6c"><rect class="bk" x="58" y="1430" width="254" height="57"/>
<text class="t s9" transform="translate(297,1438) rotate(90)" textLength="30" lengthAdjust="spacingAndGlyphs">ส่งเสริม</text>
<text class="t s9" transform="translate(270,1447) rotate(90)" textLength="20" lengthAdjust="spacingAndGlyphs">การมี</text>
<text class="t s9" transform="translate(243,1435) rotate(90)" textLength="38" lengthAdjust="spacingAndGlyphs">ส่วนร่วม</text>
<text class="t s9" transform="translate(217,1435) rotate(90)" textLength="28" lengthAdjust="spacingAndGlyphs">ของ</text>
<text class="t s9" transform="translate(190,1433) rotate(90)" textLength="52" lengthAdjust="spacingAndGlyphs">ประชาชนใน</text>
<text class="t s9" transform="translate(165,1442) rotate(90)" textLength="25" lengthAdjust="spacingAndGlyphs">ชุมชน</text>
<text class="t s9" transform="translate(137,1450) rotate(90)" textLength="10" lengthAdjust="spacingAndGlyphs">ฯ</text></g>
<g id="guide-6d"><rect class="bk" x="23" y="1487" width="289" height="57"/>
<text class="t s9" transform="translate(297,1500) rotate(90)" textLength="27" lengthAdjust="spacingAndGlyphs">จัดทำ</text>
<text class="t s9" transform="translate(273,1497) rotate(90)" textLength="38" lengthAdjust="spacingAndGlyphs">แผนพัฒนา</text>
<text class="t s9" transform="translate(250,1507) rotate(90)" textLength="15" lengthAdjust="spacingAndGlyphs">ท้อง</text>
<text class="t s9" transform="translate(228,1500) rotate(90)" textLength="33" lengthAdjust="spacingAndGlyphs">ถิ่นและ</text>
<text class="t s9" transform="translate(205,1492) rotate(90)" textLength="47" lengthAdjust="spacingAndGlyphs">ประชาคม</text>
<text class="t s9" transform="translate(182,1495) rotate(90)" textLength="38" lengthAdjust="spacingAndGlyphs">หมู่บ้าน</text>
<text class="t s9" transform="translate(158,1500) rotate(90)" textLength="23" lengthAdjust="spacingAndGlyphs">เพื่อ</text>
<text class="t s9" transform="translate(137,1493) rotate(90)" textLength="33" lengthAdjust="spacingAndGlyphs">รับฟัง</text>
<text class="t s9" transform="translate(113,1492) rotate(90)" textLength="42" lengthAdjust="spacingAndGlyphs">ความคิดเห็น</text>
<text class="t s9" transform="translate(90,1497) rotate(90)" textLength="27" lengthAdjust="spacingAndGlyphs">ของ</text>
<text class="t s9" transform="translate(70,1490) rotate(90)" textLength="50" lengthAdjust="spacingAndGlyphs">ประชาชน</text>
<text class="t s9" transform="translate(48,1505) rotate(90)" textLength="15" lengthAdjust="spacingAndGlyphs">ฯลฯ</text></g>
<g id="guide-6e"><rect class="bk" x="128" y="1544" width="185" height="54"/>
<text class="t s9" transform="translate(297,1552) rotate(90)" textLength="32" lengthAdjust="spacingAndGlyphs">ปรับปรุง</text>
<text class="t s9" transform="translate(270,1557) rotate(90)" textLength="23" lengthAdjust="spacingAndGlyphs">การ</text>
<text class="t s9" transform="translate(243,1552) rotate(90)" textLength="40" lengthAdjust="spacingAndGlyphs">จัดเก็บ</text>
<text class="t s9" transform="translate(217,1552) rotate(90)" textLength="40" lengthAdjust="spacingAndGlyphs">รายได้</text>
<text class="t s9" transform="translate(190,1555) rotate(90)" textLength="30" lengthAdjust="spacingAndGlyphs">ของ</text>
<text class="t s9" transform="translate(165,1562) rotate(90)" textLength="18" lengthAdjust="spacingAndGlyphs">อบต.</text></g>

<!-- Connectors -->
<g id="connectors" class="cn">
<path d="M767,433 V1405"/>
<path d="M767,433 H748" marker-end="url(#ah)"/>
<path d="M767,715 H748" marker-end="url(#ah)"/>
<path d="M767,878 H748" marker-end="url(#ah)"/>
<path d="M767,1019 H748" marker-end="url(#ah)"/>
<path d="M767,1175 H748" marker-end="url(#ah)"/>
<path d="M767,1405 H750" marker-end="url(#ah)"/>
<path d="M605,297 H595" marker-end="url(#ah)"/>
<path d="M607,1437 H597 V333 H595" marker-end="url(#ah)"/>
<path d="M605,872 L599,640 L594,609" marker-end="url(#ah)"/>
<path d="M600,726 L594,714" marker-end="url(#ah)"/>
<path d="M606,1017 L598,1130 L594,1225" marker-end="url(#ah)"/>
<path d="M426,692 H408" marker-end="url(#ah)"/>
<path d="M426,830 H408" marker-end="url(#ah)"/>
<path d="M426,1135 L405,1172" marker-end="url(#ah)"/>
<path d="M426,1375 H405" marker-end="url(#ah)"/>
<path d="M426,1517 H402" marker-end="url(#ah)"/>
<path d="M310,305 Q322,305 322,313 V339 Q322,345 345,345 Q322,345 322,351 V375 Q322,383 310,383"/>
<path d="M312,476 Q332,476 332,484 V509 Q332,515 347,515 Q332,515 332,521 V546 Q332,554 312,554"/>
<path d="M310,702 Q328,702 328,710 V736 Q328,742 345,742 Q328,742 328,748 V772 Q328,780 310,780"/>
<path d="M310,939 Q327,939 327,947 V972 Q327,978 347,978 Q327,978 327,984 V1010 Q327,1018 310,1018"/>
<path d="M312,1152 Q325,1152 325,1160 V1186 Q325,1192 338,1192 Q325,1192 325,1198 V1222 Q325,1230 312,1230"/>
<path d="M302,1407 Q330,1407 330,1415 V1439 Q330,1445 355,1445 Q330,1445 330,1451 V1475 Q330,1483 302,1483"/>
</g>
</svg>
